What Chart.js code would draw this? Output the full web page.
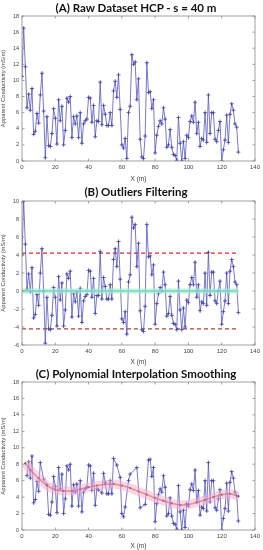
<!DOCTYPE html>
<html>
<head>
<meta charset="utf-8">
<script src="https://cdn.jsdelivr.net/npm/chart.js@4"></script>
<style>
  body { margin: 0; background: #fff; width: 263px; height: 550px; overflow: hidden; position: relative; font-family: Lato, sans-serif; }
  canvas { position: absolute; left: 0; }
  .ttl { position: absolute; left: 0; width: 272px; text-align: center; font-weight: bold; font-size: 11.5px; color: #111; z-index: 2; line-height: 14px; }
</style>
</head>
<body>
<div class="ttl" style="top:1px">(A) Raw Dataset HCP - s = 40 m</div>
<canvas id="cA" width="263" height="183" style="top:0px"></canvas>
<div class="ttl" style="top:185px">(B) Outliers Filtering</div>
<canvas id="cB" width="263" height="183" style="top:183px"></canvas>
<div class="ttl" style="top:367px">(C) Polynomial Interpolation Smoothing</div>
<canvas id="cC" width="263" height="184" style="top:366px"></canvas>
<script>
// sampling interval of the survey (m)
const STEP_M = 1;

// (A) raw apparent conductivity, mS/m, one value per metre from 0 to 130
const rawValues = [
  10.5, 16.5, 11.7, 6.6, 8.3, 6.3, 9.0, 3.3, 3.7, 5.9,
  4.7, 8.2, 10.9, 6.2, 0.4, 5.5, 1.9, 1.8, 3.4, 6.5,
  5.3, 2.1, 7.6, 5.0, 6.8, 2.0, 3.8, 7.8, 7.3, 8.0,
  2.9, 5.5, 4.6, 5.6, 2.9, 6.0, 2.2, 4.6, 5.0, 5.2,
  7.9, 7.8, 4.8, 6.9, 3.0, 5.0, 4.9, 9.8, 4.5, 6.9,
  5.8, 4.4, 4.4, 6.0, 4.4, 8.7, 9.9, 7.9, 10.7, 6.4,
  2.0, 1.6, 2.8, 0.3, 6.0, 6.8, 13.2, 12.0, 12.3, 7.6,
  10.2, 2.7, 0.5, 0.3, 3.1, 12.2, 8.5, 8.6, 6.5, 7.6,
  1.0, 3.2, 4.3, 5.0, 4.6, 6.6, 5.2, 1.7, 2.0, 3.9,
  1.7, 0.8, 0.7, 0.1, 5.4, 2.2, 0.0, 2.4, 0.3, 3.2,
  2.9, 4.9, 5.6, 4.8, 7.3, 3.4, 4.8, 1.8, 2.8, 2.6,
  6.0, 2.3, 8.2, 3.4, 6.0, 6.0, 2.7, 2.4, 3.8, 4.9,
  0.0, 1.4, 2.6, 5.7, 2.3, 5.8, 7.1, 6.3, 4.6, 4.2,
  1.1
];

// (B) detrended values, mS/m
const residualValues = [
  4.0, 10.0, 5.2, 0.2, 1.9, -0.1, 2.6, -3.0, -2.6, -0.4,
  -1.6, 2.0, 4.7, 0.0, -5.8, -0.7, -4.2, -4.3, -2.7, 0.4,
  -0.7, -3.9, 1.6, -1.0, 0.9, -3.9, -2.1, 1.9, 1.4, 2.2,
  -2.9, -0.3, -1.2, -0.1, -2.8, 0.3, -3.5, -1.1, -0.6, -0.4,
  2.3, 2.2, -0.7, 1.4, -2.5, -0.5, -0.5, 4.4, -0.9, 1.5,
  0.5, -0.9, -0.9, 0.7, -0.9, 3.5, 4.7, 2.7, 5.5, 1.3,
  -3.1, -3.5, -2.3, -4.8, 1.0, 1.8, 8.2, 7.0, 7.4, 2.7,
  5.3, -2.2, -4.3, -4.5, -1.7, 7.4, 3.8, 3.9, 1.8, 2.9,
  -3.7, -1.4, -0.3, 0.4, 0.0, 2.1, 0.7, -2.8, -2.5, -0.6,
  -2.7, -3.6, -3.7, -4.3, 1.1, -2.1, -4.3, -1.9, -4.0, -1.0,
  -1.3, 0.7, 1.5, 0.7, 3.2, -0.7, 0.7, -2.2, -1.2, -1.4,
  2.0, -1.6, 4.3, -0.5, 2.1, 2.1, -1.1, -1.4, 0.0, 1.1,
  -3.7, -2.3, -1.1, 2.0, -1.4, 2.2, 3.5, 2.7, 1.0, 0.7,
  -2.4
];

// outlier thresholds and zero line (mS/m)
const thresholdUp = 4.2;
const thresholdLow = -4.2;
const lineStart = 0;
const lineEnd = 130;

// (C) samples dropped as outliers (positions in m)
const outlierPositions = [0, 1, 2, 12, 14, 47, 56, 58, 63, 66, 67, 68, 70, 72, 73, 75];

// (C) polynomial trend
const trendX = [2, 5, 10, 15, 20, 25, 30, 35, 40, 45, 50, 55, 60, 65, 70, 75, 80, 85, 90, 95, 100, 105, 110, 115, 120, 125, 130];
const trendY = [8.1, 7.3, 6.3, 5.4, 4.9, 4.75, 4.75, 4.95, 5.2, 5.4, 5.55, 5.6, 5.4, 5.1, 4.7, 4.3, 3.9, 3.55, 3.25, 3.05, 3.1, 3.35, 3.65, 4.0, 4.3, 4.4, 4.1];

const BLUE = '#3c3ca8';
const BLUE_LINE = 'rgba(80,80,190,0.85)';

const toPoints = vals => vals.map((v, i) => ({ x: i * STEP_M, y: v }));

const frame = {
  id: 'frame',
  afterDatasetsDraw(chart) {
    const { ctx, chartArea: a, scales } = chart;
    ctx.save();
    ctx.strokeStyle = '#8a8a8a';
    ctx.lineWidth = 0.8;
    ctx.strokeRect(a.left, a.top, a.right - a.left, a.bottom - a.top);
    const t = 2.5;
    ctx.beginPath();
    scales.x.ticks.forEach(tk => {
      const px = scales.x.getPixelForValue(tk.value);
      ctx.moveTo(px, a.bottom); ctx.lineTo(px, a.bottom - t);
      ctx.moveTo(px, a.top); ctx.lineTo(px, a.top + t);
    });
    scales.y.ticks.forEach(tk => {
      const py = scales.y.getPixelForValue(tk.value);
      ctx.moveTo(a.left, py); ctx.lineTo(a.left + t, py);
      ctx.moveTo(a.right, py); ctx.lineTo(a.right - t, py);
    });
    ctx.stroke();
    ctx.restore();
  }
};

const noGrid = { display: false, drawTicks: false, tickLength: 0 };

function makeChart(id, datasets, yMin, yMax, padTop, xAxisH) {
  return new Chart(document.getElementById(id), {
    type: 'line',
    data: { datasets: datasets },
    options: {
      responsive: false,
      animation: false,
      layout: { padding: { top: padTop, right: 7, left: 0, bottom: 0 } },
      plugins: { legend: { display: false }, tooltip: { enabled: false } },
      scales: {
        x: {
          type: 'linear', min: 0, max: 140,
          ticks: { stepSize: 20, font: { size: 6 }, color: '#444', padding: 3, maxRotation: 0 },
          grid: noGrid, border: { display: false },
          title: { display: true, text: 'X (m)', font: { size: 6.5 }, color: '#444', padding: 0 },
          afterFit: s => { s.height = xAxisH; }
        },
        y: {
          min: yMin, max: yMax,
          ticks: { stepSize: 2, font: { size: 5.5 }, color: '#444', padding: 3 },
          grid: noGrid, border: { display: false },
          title: { display: true, text: 'Apparent Conductivity (mS/m)', font: { size: 5.8 }, color: '#444', padding: 0 },
          afterFit: s => { s.width = 22; }
        }
      }
    },
    plugins: [frame]
  });
}

const dataStyle = {
  borderColor: BLUE_LINE, borderWidth: 0.9, pointStyle: 'cross', pointRadius: 2,
  pointBorderColor: BLUE, pointBorderWidth: 0.8, tension: 0
};

// (A)
makeChart('cA', [
  Object.assign({ data: toPoints(rawValues) }, dataStyle)
], 0, 18, 16, 22);

// (B)
const hLine = (y, color, width, dash) => ({
  data: [{ x: lineStart, y: y }, { x: lineEnd, y: y }],
  borderColor: color, borderWidth: width, borderDash: dash || [], pointRadius: 0
});
makeChart('cB', [
  hLine(0, 'rgba(160,235,220,0.7)', 5),
  Object.assign({ data: toPoints(residualValues) }, dataStyle),
  hLine(0, '#2eaa3c', 1.3),
  hLine(thresholdUp, '#e02828', 1.2, [4, 3]),
  hLine(thresholdLow, '#b0453a', 1.2, [4, 3])
], -6, 10, 18, 21);

// (C)
const filtered = rawValues.map((v, i) => ({ x: i * STEP_M, y: outlierPositions.includes(i * STEP_M) ? null : v }));
const trendPts = trendX.map((x, i) => ({ x: x, y: trendY[i] }));
makeChart('cC', [
  { data: trendPts, borderColor: 'rgba(248,170,210,0.5)', borderWidth: 9, pointRadius: 0, tension: 0.4 },
  Object.assign({ data: filtered, spanGaps: true }, dataStyle),
  { data: trendPts, borderColor: '#cf7a28', borderWidth: 1.5, pointRadius: 1.1, pointBackgroundColor: '#5a2a12', pointBorderWidth: 0, tension: 0.4 }
], 0, 18, 16, 20);
</script>
</body>
</html>
